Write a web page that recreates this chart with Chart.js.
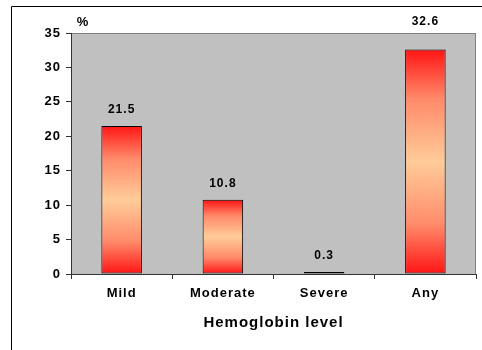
<!DOCTYPE html>
<html>
<head>
<meta charset="utf-8">
<script src="https://cdn.jsdelivr.net/npm/chart.js@4/dist/chart.umd.min.js"></script>
<style>
  html, body { margin: 0; padding: 0; background: #fff; }
  #wrap { position: absolute; left: 0; top: 0; width: 482px; height: 350px; }
</style>
</head>
<body>
<div id="wrap"><canvas id="myChart" width="482" height="350"></canvas></div>
<script>
const levels = ["Mild", "Moderate", "Severe", "Any"];
const percents = [21.5, 10.8, 0.3, 32.6];
const yTicks = [0, 5, 10, 15, 20, 25, 30, 35];

const FONT = "'Liberation Sans', Arial, sans-serif";

// gray plot area, its outline and the outer frame
const backdrop = {
  id: "backdrop",
  beforeDraw(chart) {
    const { ctx, chartArea: a } = chart;
    ctx.save();
    ctx.fillStyle = "#c0c0c0";
    ctx.fillRect(a.left, a.top, a.right - a.left, a.bottom - a.top);
    ctx.strokeStyle = "#808080";
    ctx.lineWidth = 1;
    ctx.strokeRect(a.left + 0.5, a.top + 0.5, a.right - a.left - 1, a.bottom - a.top);
    ctx.strokeStyle = "#000";
    ctx.beginPath();
    ctx.moveTo(11.5, 400);
    ctx.lineTo(11.5, 6.5);
    ctx.lineTo(600, 6.5);
    ctx.stroke();
    ctx.restore();
    ctx.letterSpacing = "1px";
  }
};

// value labels above bars and the "%" unit
const labels = {
  id: "labels",
  afterDatasetsDraw(chart) {
    const { ctx, chartArea: a } = chart;
    ctx.save();
    ctx.letterSpacing = "1px";
    ctx.fillStyle = "#000";
    ctx.font = "bold 12px " + FONT;
    ctx.textAlign = "center";
    ctx.textBaseline = "middle";
    chart.getDatasetMeta(0).data.forEach((bar, i) => {
      let y = bar.y - 16;
      if (y - 7 < a.top) y = a.top - 11;
      ctx.fillText(percents[i].toFixed(1), bar.x, y);
    });
    ctx.font = "bold 13px " + FONT;
    ctx.fillText("%", a.left + 12, a.top - 11);
    ctx.restore();
  }
};

new Chart("myChart", {
  type: "bar",
  data: {
    labels: levels,
    datasets: [{
      data: percents,
      backgroundColor: (c) => {
        const chart = c.chart;
        if (!chart.chartArea) return "#ff8080";
        const y = chart.scales.y;
        const top = y.getPixelForValue(c.raw);
        const base = y.getPixelForValue(0);
        const g = chart.ctx.createLinearGradient(0, top, 0, base);
        g.addColorStop(0, "#ff1414");
        g.addColorStop(0.22, "#ff8a6a");
        g.addColorStop(0.5, "#ffcc99");
        g.addColorStop(0.78, "#ff8a6a");
        g.addColorStop(1, "#ff1414");
        return g;
      },
      borderColor: "#000",
      borderWidth: 1,
      borderSkipped: false,
      barPercentage: 0.4,
      categoryPercentage: 1
    }]
  },
  options: {
    responsive: false,
    animation: false,
    layout: { padding: { left: 0, top: 33, right: 6, bottom: 0 } },
    plugins: { legend: { display: false }, tooltip: { enabled: false } },
    scales: {
      x: {
        afterFit(s) { s.height = 76; },
        grid: { drawOnChartArea: false, color: "#333", tickLength: 5 },
        border: { color: "#333" },
        ticks: { color: "#000", padding: 7, font: { family: FONT, size: 13, weight: "bold" } },
        title: {
          display: true,
          text: "Hemoglobin level",
          color: "#000",
          padding: { top: 4, bottom: 18 },
          font: { family: FONT, size: 15, weight: "bold" }
        }
      },
      y: {
        min: 0,
        max: 35,
        afterFit(s) { s.width = 71; },
        afterBuildTicks(s) { s.ticks = yTicks.map(v => ({ value: v })); },
        grid: { drawOnChartArea: false, color: "#333", tickLength: 5 },
        border: { color: "#333" },
        ticks: { color: "#000", padding: 5, font: { family: FONT, size: 13, weight: "bold" } }
      }
    }
  },
  plugins: [backdrop, labels]
});
</script>
</body>
</html>
